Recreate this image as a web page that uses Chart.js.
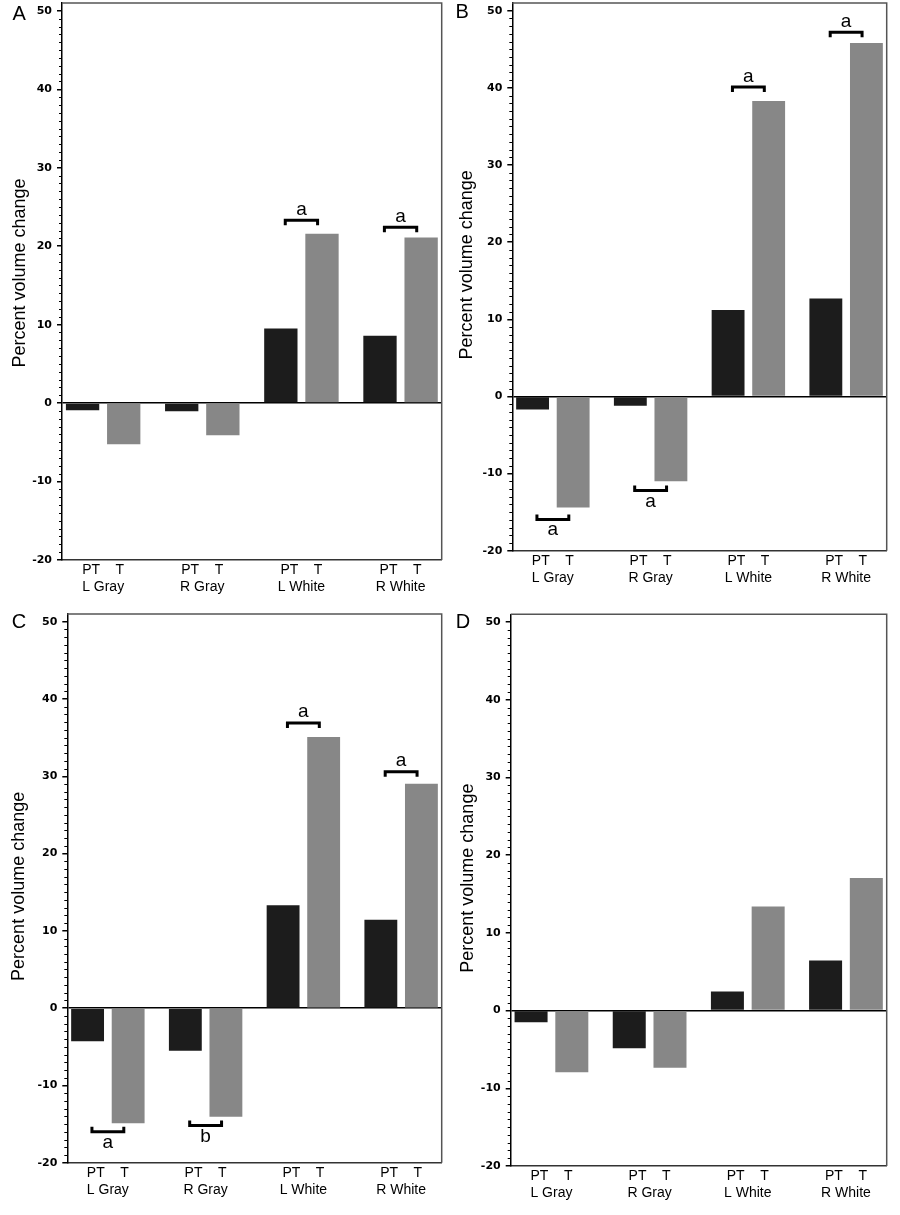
<!DOCTYPE html>
<html><head><meta charset="utf-8">
<script src="https://cdn.jsdelivr.net/npm/chart.js@4/dist/chart.umd.min.js"></script>
<style>
body{margin:0;background:#fff;}
#wrap{position:relative;width:900px;height:1215px;overflow:hidden;}
canvas{position:absolute;}
.lbl{position:absolute;font-family:"Liberation Sans",Arial,sans-serif;font-size:20px;line-height:20px;color:#000;}
</style></head><body>
<div id="wrap">
<canvas id="cA" width="450" height="605" style="left:0px;top:0px"></canvas>
<canvas id="cB" width="450" height="605" style="left:450px;top:0px"></canvas>
<canvas id="cC" width="450" height="610" style="left:0px;top:605px"></canvas>
<canvas id="cD" width="450" height="610" style="left:450px;top:605px"></canvas>
<div class="lbl" style="left:12.5px;top:3.4px">A</div>
<div class="lbl" style="left:455.5px;top:1px">B</div>
<div class="lbl" style="left:11.7px;top:611.4px">C</div>
<div class="lbl" style="left:455.8px;top:611.4px">D</div>
</div>
<script>
// ---- data ----
const categories = ['L Gray', 'R Gray', 'L White', 'R White'];
const seriesNames = ['PT', 'T'];
const groupLabel = 'PT    T';
const yTitle = 'Percent volume change';
const yTickValues = [-20, -10, 0, 10, 20, 30, 40, 50];
const yMin = -20, yMax = 51;

const ptA = [-0.9, -1.05, 9.5, 8.6];
const tA  = [-5.25, -4.1, 21.6, 21.1];
const ptB = [-1.7, -1.2, 11.2, 12.7];
const tB  = [-14.4, -11.0, 38.3, 45.8];
const ptC = [-4.3, -5.5, 13.3, 11.45];
const tC  = [-14.9, -14.05, 35.1, 29.05];
const ptD = [-1.5, -4.85, 2.45, 6.45];
const tD  = [-7.95, -7.35, 13.4, 17.05];

// significance brackets (label and bracket level per category)
const sigLabelA = [null, null, 'a', 'a'];
const sigYA     = [null, null, 23.3, 22.4];
const sigLabelB = ['a', 'a', 'a', 'a'];
const sigYB     = [-15.95, -12.2, 40.1, 47.2];
const sigLabelC = ['a', 'b', 'a', 'a'];
const sigYC     = [-16.0, -15.2, 36.9, 30.6];
const sigLabelD = [null, null, null, null];
const sigYD     = [null, null, null, null];

// ---- drawing ----
const decor = {
  id: 'decor',
  afterDatasetsDraw(chart, args, opts) {
    const {ctx, chartArea: a, scales: {x, y}} = chart;
    ctx.save();
    // frame top/right
    ctx.strokeStyle = '#555';
    ctx.lineWidth = 1.5;
    ctx.beginPath();
    ctx.moveTo(a.left, a.top);
    ctx.lineTo(a.right, a.top);
    ctx.lineTo(a.right, a.bottom);
    ctx.stroke();
    // minor ticks
    ctx.strokeStyle = '#000';
    ctx.lineWidth = 1;
    for (let v = yMin; v <= 50; v++) {
      if (v % 10 === 0) continue;
      const py = Math.round(y.getPixelForValue(v)) + 0.5;
      ctx.beginPath();
      ctx.moveTo(a.left - 3, py);
      ctx.lineTo(a.left, py);
      ctx.stroke();
    }
    // y axis title
    ctx.save();
    ctx.fillStyle = '#000';
    ctx.font = '18px "Liberation Sans", Arial, sans-serif';
    ctx.textAlign = 'center';
    ctx.textBaseline = 'middle';
    ctx.translate(opts.titleX, (a.top + a.bottom) / 2 + opts.titleShift);
    ctx.rotate(-Math.PI / 2);
    ctx.fillText(yTitle, 0, 0);
    ctx.restore();
    // significance brackets
    const labels = opts.labels, levels = opts.levels;
    ctx.lineWidth = 3;
    ctx.lineCap = 'butt';
    ctx.lineJoin = 'miter';
    ctx.font = '19px "Liberation Sans", Arial, sans-serif';
    ctx.textAlign = 'center';
    ctx.textBaseline = 'alphabetic';
    ctx.fillStyle = '#000';
    labels.forEach((lab, i) => {
      if (!lab) return;
      const xc = x.getPixelForValue(i + 1);
      const hw = x.getPixelForValue(i + 1 + 0.163) - xc;
      const py = y.getPixelForValue(levels[i]);
      const dir = levels[i] > 0 ? 1 : -1;
      ctx.beginPath();
      ctx.moveTo(xc - hw, py + dir * 5);
      ctx.lineTo(xc - hw, py);
      ctx.lineTo(xc + hw, py);
      ctx.lineTo(xc + hw, py + dir * 5);
      ctx.stroke();
      ctx.fillText(lab, xc, dir > 0 ? py - 5.5 : py + 16);
    });
    ctx.restore();
  }
};

function zeroPad(s) {
  s.paddingTop = 0; s.paddingBottom = 0; s.paddingLeft = 0; s.paddingRight = 0;
}

function makeChart(id, pt, t, sigLabels, sigLevels, geo) {
  return new Chart(document.getElementById(id), {
    type: 'bar',
    data: {
      datasets: [
        {label: seriesNames[0], data: pt.map((v, i) => ({x: i + 1, y: v})),
         backgroundColor: '#1c1c1c', borderWidth: 0, categoryPercentage: 0.83, barPercentage: 0.81},
        {label: seriesNames[1], data: t.map((v, i) => ({x: i + 1, y: v})),
         backgroundColor: '#878787', borderWidth: 0, categoryPercentage: 0.83, barPercentage: 0.81}
      ]
    },
    options: {
      responsive: false,
      animation: false,
      layout: {padding: {top: geo.padTop, right: geo.padRight, left: 0, bottom: 0}},
      plugins: {legend: {display: false}, tooltip: {enabled: false},
                decor: {labels: sigLabels, levels: sigLevels, titleX: geo.titleX, titleShift: geo.titleShift}},
      scales: {
        x: {
          type: 'linear', min: 0.585, max: 4.415, offset: false,
          afterBuildTicks: s => { s.ticks = categories.map((c, i) => ({value: i + 1})); },
          afterFit: s => { s.height = geo.xHeight; zeroPad(s); },
          grid: {display: false, drawTicks: false, offset: false},
          border: {display: true, color: '#333', width: 1.5},
          ticks: {
            autoSkip: false, maxRotation: 0, minRotation: 0, padding: 2, color: '#000',
            font: {family: '"Liberation Sans", Arial, sans-serif', size: 14},
            callback: (v) => [groupLabel, categories[Math.round(v) - 1]]
          }
        },
        y: {
          type: 'linear', min: yMin, max: yMax,
          afterBuildTicks: s => { s.ticks = yTickValues.map(v => ({value: v})); },
          afterFit: s => { s.width = geo.yWidth; zeroPad(s); },
          grid: {
            drawOnChartArea: true,
            color: c => (c.tick && c.tick.value === 0) ? '#000' : 'rgba(0,0,0,0)',
            lineWidth: 1.5, tickColor: '#000', tickLength: 5, tickWidth: 1.5
          },
          border: {display: true, color: '#000', width: 1.5},
          ticks: {
            autoSkip: false, padding: 5, color: '#000',
            font: {family: '"DejaVu Sans", sans-serif', size: 11, weight: 'bold'}
          },
          title: {display: false}
        }
      }
    },
    plugins: [decor]
  });
}

makeChart('cA', ptA, tA, sigLabelA, sigYA, {padTop: 3, padRight: 8.3, yWidth: 62, xHeight: 45, titleX: 20, titleShift: -8.5});
makeChart('cB', ptB, tB, sigLabelB, sigYB, {padTop: 3, padRight: 13.3, yWidth: 62.3, xHeight: 54.3, titleX: 17, titleShift: -12});
makeChart('cC', ptC, tC, sigLabelC, sigYC, {padTop: 9, padRight: 8.3, yWidth: 67.3, xHeight: 52.3, titleX: 19.5, titleShift: -2});
makeChart('cD', ptD, tD, sigLabelD, sigYD, {padTop: 9.3, padRight: 13.3, yWidth: 60.7, xHeight: 49, titleX: 18, titleShift: -12});
</script>
</body></html>
